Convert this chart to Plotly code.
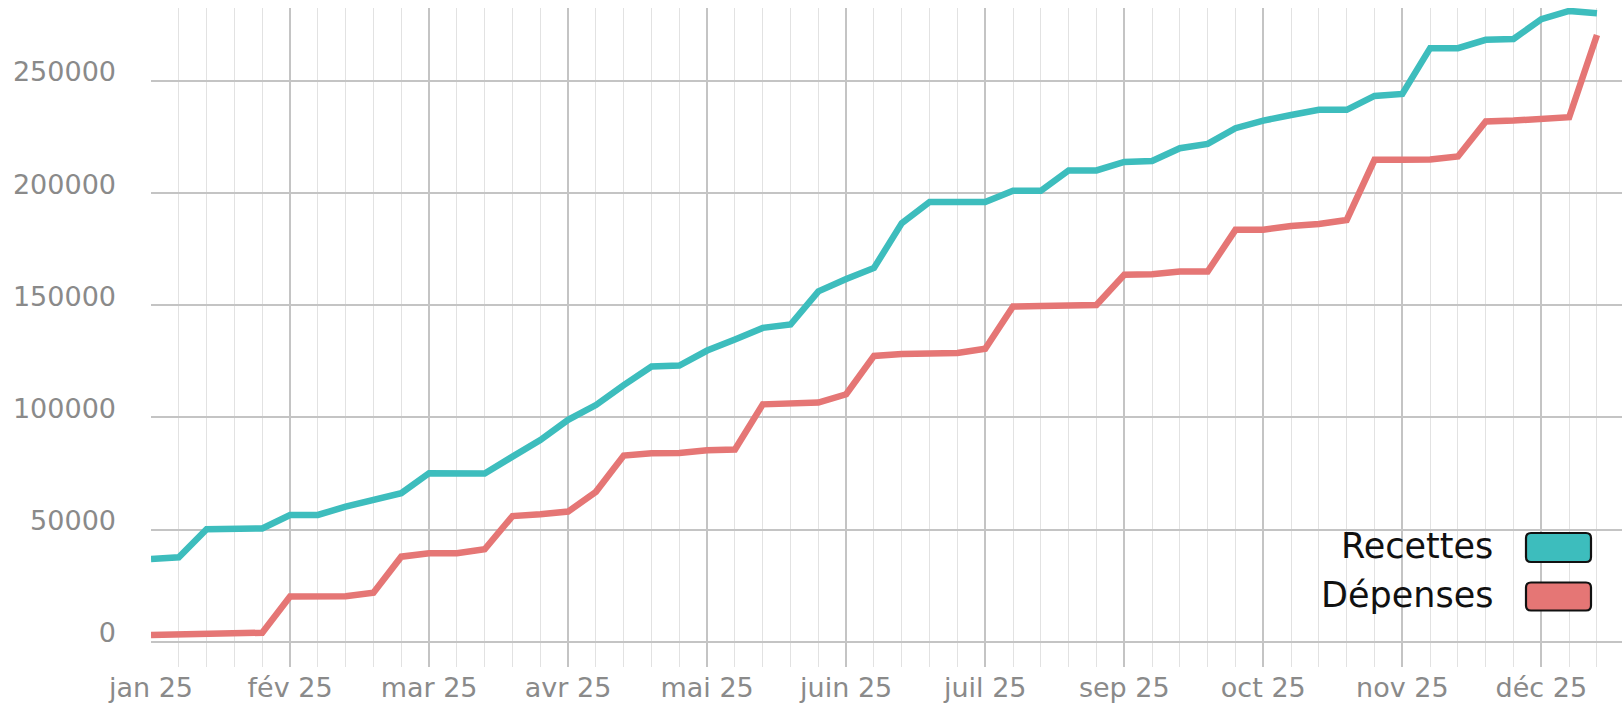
import plotly.graph_objects as go

# ---- data (weekly cumulative values) ----
weeks = list(range(53))
recettes = [36900, 37600, 50100, 50100, 50500, 56500, 56500, 60200, 62900, 66200,
            75100, 75100, 75000, 82500, 89900, 98900, 105500, 114400, 122700, 123100,
            129800, 134700, 139900, 141400, 156200, 161700, 166600, 186600, 196000, 196000,
            196000, 201000, 201000, 210100, 210100, 213900, 214300, 220000, 221900, 228900,
            232300, 234800, 237100, 237100, 243300, 244200, 264600, 264600, 268300, 268700,
            277500, 281200, 280200]
depenses = [3000, 3200, 3400, 3700, 4000, 20100, 20100, 20300, 21800, 37900,
            39400, 39400, 41200, 56000, 56800, 58000, 66800, 83000, 84000, 84100,
            85300, 85700, 105800, 106200, 106600, 110300, 127400, 128200, 128600, 128700,
            130600, 149400, 149600, 149700, 150100, 163600, 163800, 165000, 165000, 183600,
            183700, 185300, 186200, 188000, 214800, 214800, 215000, 216300, 231900, 232300,
            232900, 233800, 270500]
tick_weeks = [0, 5, 10, 15, 20, 25, 30, 35, 40, 45, 50]
tick_labels = ["jan 25", "fév 25", "mar 25", "avr 25", "mai 25", "juin 25",
               "juil 25", "sep 25", "oct 25", "nov 25", "déc 25"]
y_ticks = [0, 50000, 100000, 150000, 200000, 250000]
y_labels = ["0", "50000", "100000", "150000", "200000", "250000"]
series_names = ["Recettes", "Dépenses"]
series_colors = ["#3DBDBD", "#E57675"]

# ---- layout constants ----
W, H = 1624, 708
ML, MR, MT, MB = 151, 2, 8, 41
PW, PH = W - ML - MR, H - MT - MB
FONT = "DejaVu Sans"

fig = go.Figure()
for name, vals, col in zip(series_names, [recettes, depenses], series_colors):
    fig.add_trace(go.Scatter(x=weeks, y=vals, mode="lines", name=name,
                             line=dict(color=col, width=6.5), showlegend=False))

def px_x(px):
    return (px - ML) / PW

def px_y(py):
    return (H - MB - py) / PH

def rounded_rect(x0, y0, x1, y1, r):
    X = px_x; Y = px_y
    return (f"M {X(x0 + r)},{Y(y0)} L {X(x1 - r)},{Y(y0)} Q {X(x1)},{Y(y0)} {X(x1)},{Y(y0 + r)} "
            f"L {X(x1)},{Y(y1 - r)} Q {X(x1)},{Y(y1)} {X(x1 - r)},{Y(y1)} "
            f"L {X(x0 + r)},{Y(y1)} Q {X(x0)},{Y(y1)} {X(x0)},{Y(y1 - r)} "
            f"L {X(x0)},{Y(y0 + r)} Q {X(x0)},{Y(y0)} {X(x0 + r)},{Y(y0)} Z")

legend_rows = [(533, 562), (582.5, 610.5)]
for (y0, y1), name, col in zip(legend_rows, series_names, series_colors):
    fig.add_shape(type="path", path=rounded_rect(1526, y0, 1591, y1, 5),
                  xref="paper", yref="paper", fillcolor=col,
                  line=dict(color="#111111", width=2.2), layer="above")
    fig.add_annotation(x=px_x(1495), y=px_y((y0 + y1) / 2 - 2), xref="paper", yref="paper",
                       text=name, showarrow=False, xanchor="right", yanchor="middle",
                       font=dict(family=FONT, size=35, color="#111111"))

fig.update_layout(
    template="none",
    width=W, height=H,
    margin=dict(l=ML, r=MR, t=MT, b=MB, pad=0, autoexpand=False),
    paper_bgcolor="white", plot_bgcolor="white",
    font=dict(family=FONT),
    hovermode=False,
)
fig.update_xaxes(
    automargin=False,
    range=[0, 52.9], tickmode="array", tickvals=tick_weeks, ticktext=tick_labels,
    showgrid=True, gridcolor="#c4c4c4", gridwidth=1.5, zeroline=False, showline=False,
    ticks="", ticklabelstandoff=2,
    tickfont=dict(family=FONT, size=27, color="#8a8a8a"),
    minor=dict(tickmode="linear", tick0=0, dtick=1, showgrid=True,
               gridcolor="#e2e2e2", gridwidth=1.2),
)
fig.update_yaxes(
    automargin=False,
    range=[-11280, 282500], tickmode="array", tickvals=y_ticks, ticktext=y_labels,
    showgrid=True, gridcolor="#c4c4c4", gridwidth=1.5, zeroline=False, showline=False,
    ticks="", ticklabelstandoff=34, ticklabelshift=-9,
    tickfont=dict(family=FONT, size=27, color="#8a8a8a"),
)

fig.write_html(
    "out.html",
    config={"displayModeBar": False},
    post_script="document.body.style.margin='0';document.body.style.overflow='hidden';",
)
